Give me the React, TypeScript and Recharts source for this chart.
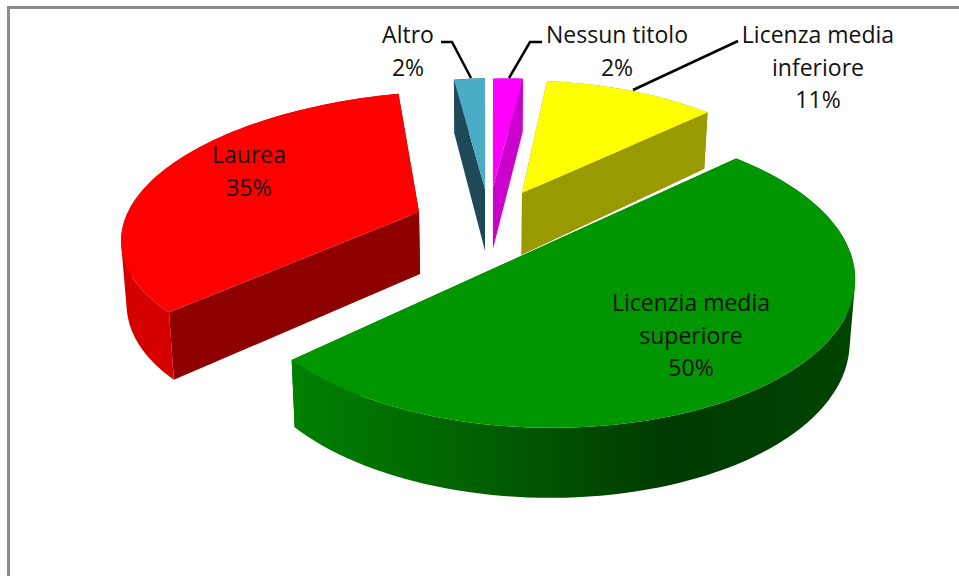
import { PieChart, Pie } from 'recharts'

const names = ['Nessun titolo', 'Licenza media inferiore', 'Licenzia media superiore', 'Laurea', 'Altro']
const values = [2, 11, 50, 35, 2]

const fontFamily = '"Open Sans", sans-serif'

// perspective of the pie disk, fitted by eye on the big slice
const TILT = { a: 1.015, b: 0, c: 0.005, d: -0.495, g: -0.08, h: 0.132 }
const DEPTH = 62
const VANISH_X = 490

const styles = [
  { top: '#ff00ff', radial: '#cc00cc', wall: ['#cc00cc', '#cc00cc'], dx: -28, dy: -69, sx: 0.88, sy: 0.825, shear: 0, lift: 0 },
  { top: '#ffff00', radial: '#999900', wall: ['#999900', '#999900'], dx: 1, dy: -63, sx: 0.88, sy: 0.855, shear: 0.045, lift: 0.015 },
  { top: '#009600', radial: '#006000', wall: ['#008000', '#006000', '#003a00', '#004400'], dx: 0, dy: 0, sx: 1, sy: 1, shear: 0, lift: 0 },
  { top: '#ff0000', radial: '#8e0000', wall: ['#d40000', '#e60000'], dx: -102, dy: -44, sx: 1.04, sy: 0.92, shear: -0.12, lift: -0.02 },
  { top: '#4bacc6', radial: '#1f4858', wall: ['#1f4858', '#1f4858'], dx: -36, dy: -67, sx: 0.93, sy: 0.845, shear: 0, lift: 0 },
]

// label placement: centre x, first baseline, lines of the name
const labels = [
  { x: 617, y: 43, lines: ['Nessun titolo'], leader: '542,42 530,42 509,78' },
  { x: 818, y: 43, lines: ['Licenza media', 'inferiore'], leader: '738,41 633,90' },
  { x: 691, y: 311, lines: ['Licenzia media', 'superiore'], leader: '' },
  { x: 249, y: 163, lines: ['Laurea'], leader: '' },
  { x: 408, y: 43, lines: ['Altro'], leader: '441,42 452,42 471,78' },
]

function project(cx: number, cy: number, R: number, angle: number, st: any) {
  const th = ((90 - angle) * Math.PI) / 180
  const u = Math.sin(th)
  const v = Math.cos(th)
  const w = 1 + TILT.g * u + TILT.h * v
  const X = ((TILT.a * u + TILT.b * v) * R) / w
  const Y = (((TILT.c * u + TILT.d * v) * R) / w) * st.sy
  const x = cx + st.dx + X * st.sx + st.shear * Y
  const y = cy + st.dy + Y + st.lift * X * st.sx
  return { x, y, bx: x - (x - VANISH_X) * 0.015, by: y + DEPTH - 8 * v }
}

// outer wall: one path of same-wound quads, so the silhouette stays tangent and no seams show
function wallPath(arc: any[]) {
  let d = ''
  for (let i = 1; i < arc.length; i++) {
    const q = [
      [arc[i - 1].x, arc[i - 1].y],
      [arc[i].x, arc[i].y],
      [arc[i].bx, arc[i].by],
      [arc[i - 1].bx, arc[i - 1].by],
    ]
    let area = 0
    q.forEach((p, k) => {
      const n = q[(k + 1) % 4]
      area += p[0] * n[1] - n[0] * p[1]
    })
    if (area < 0) q.reverse()
    d += `M${q.map((p) => p.join(',')).join('L')}Z`
  }
  return d
}

function Slice3D(props: any) {
  const { cx, cy, outerRadius, startAngle, endAngle, index } = props
  const st = styles[index]
  const apex = { x: cx + st.dx, y: cy + st.dy, bx: cx + st.dx - (cx + st.dx - VANISH_X) * 0.015, by: cy + st.dy + DEPTH }
  const arc: any[] = []
  const steps = Math.max(2, Math.ceil(Math.abs(endAngle - startAngle) / 2))
  for (let i = 0; i <= steps; i++) {
    arc.push(project(cx, cy, outerRadius, startAngle + ((endAngle - startAngle) * i) / steps, st))
  }
  const first = arc[0]
  const last = arc[arc.length - 1]
  const pt = (p: any) => `${p.x},${p.y}`
  const pb = (p: any) => `${p.bx},${p.by}`
  const xs = arc.map((p) => p.x)
  const gradId = `wall-${index}`
  return (
    <g>
      <defs>
        <linearGradient id={gradId} gradientUnits="userSpaceOnUse" x1={Math.min(...xs)} y1={0} x2={Math.max(...xs)} y2={0}>
          {st.wall.map((c, i) => (
            <stop key={i} offset={i / (st.wall.length - 1)} stopColor={c} />
          ))}
        </linearGradient>
      </defs>
      <polygon points={[pt(apex), pt(first), pb(first), pb(apex)].join(' ')} fill={st.radial} />
      <polygon points={[pt(apex), pt(last), pb(last), pb(apex)].join(' ')} fill={st.radial} />
      <path d={wallPath(arc)} fill={`url(#${gradId})`} />
      <polygon points={[pt(apex), ...arc.map(pt)].join(' ')} fill={st.top} />
    </g>
  )
}

function SliceLabel(props: any) {
  const { index, percent } = props
  const lab = labels[index]
  const all = [...lab.lines, `${Math.round(percent * 100)}%`]
  return (
    <g>
      {lab.leader && <polyline points={lab.leader} fill="none" stroke="#000" strokeWidth={2.5} />}
      <text x={lab.x} y={lab.y} textAnchor="middle" fontFamily={fontFamily} fontSize={23} fill="#111">
        {all.map((t, i) => (
          <tspan key={i} x={lab.x} y={lab.y + i * 32.5}>
            {t}
          </tspan>
        ))}
      </text>
    </g>
  )
}

const data = names.map((name, i) => ({ name, value: values[i] }))

export default function App() {
  return (
    <div style={{ position: 'absolute', left: 0, top: 0, width: 959, height: 576, background: '#fff', overflow: 'hidden' }}>
      <div style={{ position: 'absolute', left: 7, top: 6, width: 952, height: 3, background: '#8c8c8c' }} />
      <div style={{ position: 'absolute', left: 7, top: 6, width: 3, height: 570, background: '#8c8c8c' }} />
      <PieChart width={959} height={576} margin={{ top: 0, right: 0, bottom: 0, left: 0 }} style={{ position: 'absolute', left: 0, top: 0 }}>
        <Pie
          data={data}
          dataKey="value"
          nameKey="name"
          cx={521}
          cy={256}
          outerRadius={300}
          startAngle={90}
          endAngle={-270}
          stroke="none"
          isAnimationActive={false}
          shape={Slice3D}
          label={SliceLabel}
          labelLine={false}
        />
      </PieChart>
    </div>
  )
}
